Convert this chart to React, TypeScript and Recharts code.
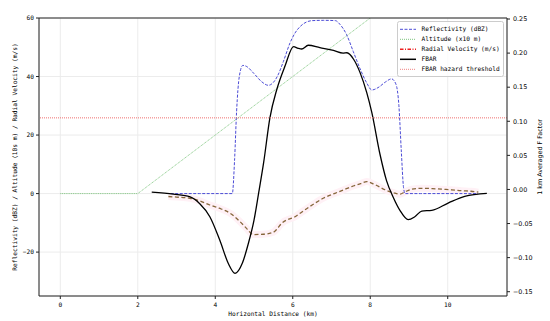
import React from 'react';
import { ComposedChart, Line, XAxis, YAxis, CartesianGrid, ReferenceLine, Legend, Label } from 'recharts';

const MONO = '"DejaVu Sans Mono", monospace';
const SANS = '"DejaVu Sans", sans-serif';

// axes
const distanceTicks = [0, 2, 4, 6, 8, 10];
const leftTicks = [-20, 0, 20, 40, 60];
const rightTicks = [-0.15, -0.1, -0.05, 0, 0.05, 0.1, 0.15, 0.2, 0.25];

// altitude (x10 m)
const altitudeX = [0, 2, 11];
const altitudeY = [0, 0, 90];

// reflectivity (dBZ)
const reflX = [2.85, 3.2, 3.6, 4.0, 4.44, 4.5, 4.55, 4.62, 4.71, 4.8, 5.0, 5.2, 5.37, 5.5, 5.6, 5.76, 5.93, 6.06, 6.2, 6.35, 6.5, 6.8, 7.1, 7.22, 7.39, 7.56, 7.73, 7.91, 8.04, 8.2, 8.4, 8.55, 8.66, 8.74, 8.8, 8.86, 8.9, 9.3, 9.8, 10.3, 10.78];
const reflY = [0, 0, 0, 0, 0, 12, 28, 40, 43.8, 43.5, 41, 38.2, 37, 38, 40, 45.2, 51.5, 54.9, 57.2, 58.6, 59.1, 59.2, 59.1, 57.8, 54.3, 48.6, 42.9, 37.8, 35.4, 36.2, 38.2, 39.2, 37.5, 30, 15, 2, 0, 0, 0, 0, 0];

// radial velocity (m/s)
const velX = [2.79, 3.0, 3.35, 3.6, 3.86, 4.1, 4.38, 4.64, 4.8, 4.98, 5.24, 5.5, 5.6, 5.71, 6.06, 6.3, 6.57, 6.8, 7.09, 7.3, 7.52, 7.75, 7.91, 8.1, 8.38, 8.6, 8.77, 8.9, 9.07, 9.33, 9.6, 9.84, 10.1, 10.36, 10.6, 10.79];
const velY = [-1.0, -1.2, -1.6, -2.5, -3.9, -5.0, -6.7, -9.6, -11.8, -14.0, -13.9, -13.2, -12.0, -10.2, -7.9, -5.7, -3.3, -1.5, 0.1, 1.2, 2.4, 3.4, 4.1, 3.2, 1.3, 0.3, -0.2, 0.6, 1.5, 1.8, 1.7, 1.5, 1.3, 1.0, 0.8, 0.5];

// 1 km averaged F factor
const fbarX = [2.36, 2.92, 3.35, 3.6, 3.86, 4.12, 4.34, 4.51, 4.7, 4.85, 5.0, 5.12, 5.25, 5.41, 5.59, 5.8, 6.02, 6.14, 6.23, 6.4, 6.7, 7.05, 7.3, 7.4, 7.57, 7.74, 7.91, 8.04, 8.25, 8.42, 8.59, 8.77, 8.98, 9.15, 9.33, 9.59, 10.01, 10.44, 11.01];
const fbarY = [-0.004, -0.007, -0.011, -0.021, -0.04, -0.075, -0.109, -0.123, -0.108, -0.08, -0.045, -0.005, 0.04, 0.105, 0.147, 0.181, 0.2095, 0.207, 0.206, 0.2115, 0.208, 0.204, 0.2, 0.2005, 0.191, 0.171, 0.142, 0.113, 0.052, 0.013, -0.011, -0.031, -0.0443, -0.04, -0.0317, -0.0307, -0.02, -0.0102, -0.0058];

const hazardThreshold = 0.105;

const legendItems = [
  { name: 'Reflectivity (dBZ)', color: '#4b4bd6', dash: '3 1.5', width: 1 },
  { name: 'Altitude (x10 m)', color: '#7cc47c', dash: '1 1', width: 1 },
  { name: 'Radial Velocity (m/s)', color: '#ee2020', dash: '3.5 1.5 1 1.5', width: 1.5 },
  { name: 'FBAR', color: '#000000', dash: undefined, width: 1.5 },
  { name: 'FBAR hazard threshold', color: '#f08080', dash: '1 1', width: 1 },
];

const zip = (xs: number[], ys: number[]) => xs.map((x, i) => ({ x, y: ys[i] }));

const minus = (s: string) => s.replace('-', '\u2212');

const LegendBox = () => (
  <svg width={107} height={56} style={{ display: 'block' }}>
    <rect x={0.5} y={0.5} width={106} height={55} rx={2} fill="#fff" fillOpacity={0.8} stroke="#cccccc" />
    {legendItems.map((it, i) => (
      <g key={it.name}>
        <line x1={3} x2={19} y1={8.3 + i * 10} y2={8.3 + i * 10} stroke={it.color} strokeWidth={it.width} strokeDasharray={it.dash} />
        <text x={24.5} y={8.3 + i * 10} dy="0.35em" fontFamily={MONO} fontSize={6.2} fill="#000">{it.name}</text>
      </g>
    ))}
  </svg>
);

export default function App() {
  const tickStyle = { fontFamily: MONO, fontSize: 6.2, fill: '#000' };
  return (
    <div style={{ position: 'absolute', left: 0, top: 0 }}>
      <ComposedChart width={550} height={321} margin={{ top: 18, right: 0, bottom: 0, left: 0 }}>
        <CartesianGrid xAxisId="x" yAxisId="left" stroke="#ececec" vertical horizontal />
        <XAxis xAxisId="x" dataKey="x" type="number" domain={[-0.55, 11.53]} ticks={distanceTicks} allowDataOverflow
          height={25} tickSize={3} tickMargin={4} stroke="#222" tick={tickStyle}>
          <Label content={() => (
            <text x={273} y={316} fontFamily={MONO} fontSize={6.2} fill="#000" textAnchor="middle">Horizontal Distance (km)</text>
          )} />
        </XAxis>
        <XAxis xAxisId="top" orientation="top" type="number" domain={[-0.55, 11.53]} height={0} tick={false} tickLine={false} stroke="#222">
          <Label content={() => (
            <text x={273} y={13.5} fontFamily={MONO} fontSize={8.5} fill="#000" textAnchor="middle">Calculated GT Along Path (Scenario 1)</text>
          )} />
        </XAxis>
        <YAxis yAxisId="left" type="number" domain={[-35, 60]} ticks={leftTicks} allowDataOverflow width={39}
          tickSize={3} tickMargin={2} stroke="#222" tick={tickStyle} tickFormatter={(v: number) => minus(String(v))}>
          <Label content={() => (
            <text x={15} y={157} transform="rotate(-90 15 157)" dy="0.35em" fontFamily={MONO} fontSize={6.2} fill="#000" textAnchor="middle">
              Reflectivity (dBZ) / Altitude (10s m) / Radial Velocity (m/s)
            </text>
          )} />
        </YAxis>
        <YAxis yAxisId="right" orientation="right" type="number" domain={[-0.1563, 0.2515]} ticks={rightTicks} allowDataOverflow width={43}
          tickSize={3} tickMargin={3} stroke="#222" tick={{ fontFamily: SANS, fontSize: 6.4, fill: '#000' }}
          tickFormatter={(v: number) => minus(v.toFixed(2))}>
          <Label content={() => (
            <text x={540} y={157} transform="rotate(-90 540 157)" dy="0.35em" fontFamily={SANS} fontSize={6.4} fill="#000" textAnchor="middle">
              1 km Averaged F Factor
            </text>
          )} />
        </YAxis>

        <Line data={zip(altitudeX, altitudeY)} dataKey="y" xAxisId="x" yAxisId="left" type="linear" stroke="#7cc47c" strokeWidth={0.9}
          strokeDasharray="1 0.8" dot={false} activeDot={false} isAnimationActive={false} />
        <Line data={zip(velX, velY)} dataKey="y" xAxisId="x" yAxisId="left" type="monotone" stroke="#fff1f6" strokeWidth={7}
          dot={false} activeDot={false} isAnimationActive={false} legendType="none" />
        <Line data={zip(velX, velY)} dataKey="y" xAxisId="x" yAxisId="left" type="monotone" stroke="#86663a" strokeWidth={1.3}
          strokeDasharray="4 2.5" dot={false} activeDot={false} isAnimationActive={false} />
        <Line data={zip(reflX, reflY)} dataKey="y" xAxisId="x" yAxisId="left" type="monotone" stroke="#4b4bd6" strokeWidth={1}
          strokeDasharray="3 1.5" dot={false} activeDot={false} isAnimationActive={false} />
        <Line data={zip(fbarX, fbarY)} dataKey="y" xAxisId="x" yAxisId="right" type="monotone" stroke="#000" strokeWidth={1.3}
          dot={false} activeDot={false} isAnimationActive={false} />
        <ReferenceLine xAxisId="x" yAxisId="right" y={hazardThreshold} stroke="#f07070" strokeWidth={1} strokeDasharray="1 1" />
        <ReferenceLine xAxisId="x" yAxisId="left" y={60} stroke="#222" strokeWidth={1} />

        <Legend layout="vertical" align="center" verticalAlign="middle" content={() => <LegendBox />}
          wrapperStyle={{ position: 'absolute', left: 397, top: 21, width: 107, height: 56, bottom: 'auto', right: 'auto' }} />
      </ComposedChart>
    </div>
  );
}
